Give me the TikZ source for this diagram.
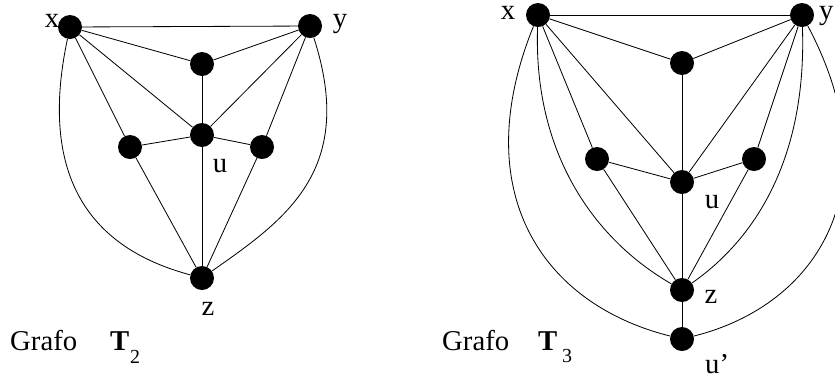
\documentclass[tikz,border=0pt]{standalone}
\usepackage{fontspec}
\setmainfont{Liberation Serif}

\begin{document}
\begin{tikzpicture}[
        x=0.03cm, y=-0.03cm,
        every node/.style={font=\fontsize{24.5}{28}\selectfont},
        vertex/.style={circle, fill=black, inner sep=0pt, minimum size=0.72cm},
        edge/.style={line width=0.7pt, draw=black},
        lbl/.style={inner sep=0pt, anchor=base},
        subidx/.style={inner sep=0pt, anchor=base west, font=\fontsize{17}{19}\selectfont}
        ]
        \useasboundingbox (0,0) rectangle (835,379);

        % Grafo T2, vertices placed at coordinates
        \node[vertex] (x2) at (70,27) {};
        \node[vertex] (y2) at (310,26) {};
        \node[vertex] (t2) at (202,64) {};
        \node[vertex] (u2) at (202,135) {};
        \node[vertex] (l2) at (130,147) {};
        \node[vertex] (r2) at (262,147) {};
        \node[vertex] (z2) at (202,278) {};

        \node[lbl] (x2lbl) at (52,27) {x};
        \node[lbl] (y2lbl) at (340,27) {y};
        \node[lbl] (u2lbl) at (220,172) {u};
        \node[lbl] (z2lbl) at (208,315) {z};

        \draw[edge] (x2) -- (y2);
        \draw[edge] (x2) -- (t2);
        \draw[edge] (y2) -- (t2);
        \draw[edge] (t2) -- (u2);
        \draw[edge] (x2) -- (u2);
        \draw[edge] (y2) -- (u2);
        \draw[edge] (x2) -- (l2);
        \draw[edge] (l2) -- (u2);
        \draw[edge] (l2) -- (z2);
        \draw[edge] (y2) -- (r2);
        \draw[edge] (r2) -- (u2);
        \draw[edge] (r2) -- (z2);
        \draw[edge] (u2) -- (z2);
        % outer arcs
        \draw[edge] (x2) to[out=-102, in=165, out looseness=1.45, in looseness=0.9] (z2);
        \draw[edge] (y2) to[out=-72, in=35, out looseness=1.4, in looseness=0.9] (z2);

        \node[anchor=base west, inner sep=0pt] (cap2) at (10,350) {Grafo};
        \node[anchor=base west, inner sep=0pt] (name2) at (110,350) {\bfseries T};
        \node[subidx] (idx2) at (130,363) {2};

        % Grafo T3
        \node[vertex] (x3) at (538,15) {};
        \node[vertex] (y3) at (802,15) {};
        \node[vertex] (t3) at (682,63) {};
        \node[vertex] (l3) at (597,159) {};
        \node[vertex] (r3) at (754,159) {};
        \node[vertex] (u3) at (682,182) {};
        \node[vertex] (z3) at (682,290) {};
        \node[vertex] (w3) at (682,339) {};

        \node[lbl] (x3lbl) at (508,19) {x};
        \node[anchor=base west, inner sep=0pt] (y3lbl) at (819,19) {y};
        \node[lbl] (u3lbl) at (712,208) {u};
        \node[lbl] (z3lbl) at (711,303) {z};
        \node[anchor=base west, inner sep=0pt] (w3lbl) at (705,373) {u’};

        \draw[edge] (x3) -- (y3);
        \draw[edge] (x3) -- (t3);
        \draw[edge] (y3) -- (t3);
        \draw[edge] (t3) -- (u3);
        \draw[edge] (x3) -- (u3);
        \draw[edge] (y3) -- (u3);
        \draw[edge] (x3) -- (l3);
        \draw[edge] (l3) -- (u3);
        \draw[edge] (l3) -- (z3);
        \draw[edge] (y3) -- (r3);
        \draw[edge] (r3) -- (u3);
        \draw[edge] (r3) -- (z3);
        \draw[edge] (u3) -- (z3);
        \draw[edge] (z3) -- (w3);
        % inner and outer arcs
        \draw[edge] (x3) to[out=-92, in=150, out looseness=1.1, in looseness=0.8] (z3);
        \draw[edge] (y3) to[out=-88, in=35, out looseness=1.1, in looseness=0.8] (z3);
        \draw[edge] (x3) to[out=-112, in=166, out looseness=1.35, in looseness=1.0] (w3);
        \draw[edge] (y3) to[out=-62, in=14, out looseness=1.4, in looseness=1.0] (w3);

        \node[anchor=base west, inner sep=0pt] (cap3) at (442,350) {Grafo};
        \node[anchor=base west, inner sep=0pt] (name3) at (538,350) {\bfseries T};
        \node[subidx] (idx3) at (562,362) {3};

    \end{tikzpicture}
\end{document}
